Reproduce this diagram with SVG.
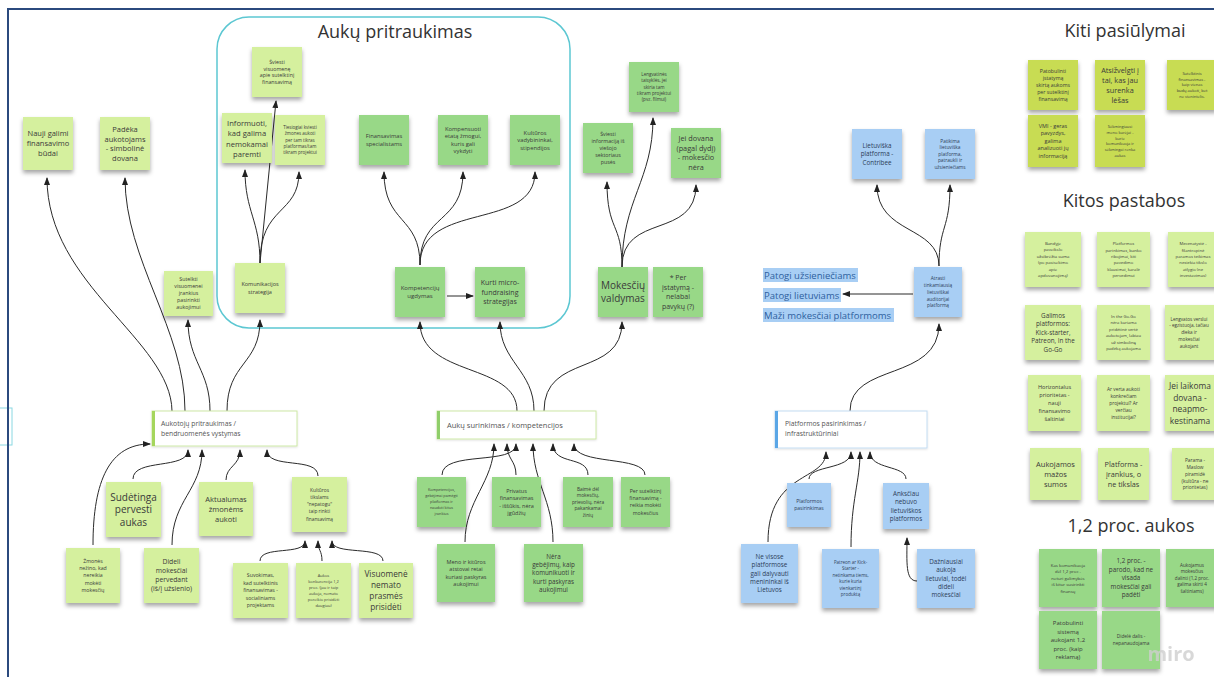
<svg xmlns="http://www.w3.org/2000/svg" width="1214" height="677" viewBox="0 0 1214 677">
<defs>
<filter id="sh" x="-20%" y="-20%" width="140%" height="150%">
<feDropShadow dx="0" dy="3" stdDeviation="2" flood-color="#000" flood-opacity="0.35"/>
</filter>
<filter id="sh2" x="-10%" y="-20%" width="120%" height="150%">
<feDropShadow dx="0" dy="1" stdDeviation="1" flood-color="#000" flood-opacity="0.12"/>
</filter>
<marker id="ah" markerUnits="userSpaceOnUse" markerWidth="8" markerHeight="6" viewBox="0 0 8 6" refX="7" refY="3" orient="auto">
<path d="M0,0 L8,3 L0,6 z" fill="#222"/>
</marker>
</defs>
<style>
text{font-family:"Open Sans","Noto Sans","Liberation Sans",sans-serif;fill:#3a3a3a;text-anchor:middle}
.n rect{filter:url(#sh)}
.lg{fill:#d5f09e}
.mg{fill:#98d887}
.yg{fill:#c8dc52}
.bl{fill:#a8cef4}
.bt{fill:#2c3d58}
.title{font-size:18px;fill:#333}
.wb rect.bx{fill:#fff;filter:url(#sh2)}
.wb text{text-anchor:start;fill:#555}
.c path{fill:none;stroke:#2a2a2a;stroke-width:1;marker-end:url(#ah)}
.hl rect{fill:#a8cef4}
.hl text{text-anchor:start;fill:#2d5f9e;font-size:9.5px}
</style>
<rect width="1214" height="677" fill="#fff"/>
<rect x="-10" y="408" width="22" height="37" fill="none" stroke="#8ad8e2" stroke-width="1"/>
<rect x="8" y="9" width="1230" height="690" fill="none" stroke="#2b4a7e" stroke-width="2"/>

<g id="frame-aukupritraukimas">
<rect x="217" y="17" width="353" height="311" rx="32" fill="none" stroke="#5cc7d2" stroke-width="1.5"/>
<text class="title" x="395" y="38">Aukų pritraukimas</text>
</g>
<text class="title" x="1125" y="37">Kiti pasiūlymai</text>
<text class="title" x="1124" y="207">Kitos pastabos</text>
<text class="title" x="1131" y="532">1,2 proc. aukos</text>

<g id="connectors" class="c">
<path d="M172,411 C171,340 47,285 47,178"/>
<path d="M185,411 C185,330 125,260 125,178"/>
<path d="M210,411 C210,370 188,362 188,320"/>
<path d="M227,411 C227,362 260,365 260,320"/>
<path d="M260,263 L276,101"/>
<path d="M260,263 C260,220 245,212 245,170"/>
<path d="M260,263 C260,205 299,215 299,172"/>
<path d="M420,265 C420,215 384,225 384,172"/>
<path d="M420,265 C420,212 463,225 463,172"/>
<path d="M420,265 C420,200 535,232 535,172"/>
<path d="M447,296 L473,296"/>
<path d="M517,411 C517,362 420,378 420,322"/>
<path d="M534,411 C534,370 500,362 500,322"/>
<path d="M544,411 C544,352 622,378 622,322"/>
<path d="M622,267 C622,222 607,232 607,182"/>
<path d="M622,267 C622,200 653,180 653,118"/>
<path d="M622,267 C622,212 696,240 696,185"/>
<path d="M850,411 C850,362 939,382 939,324"/>
<path d="M939,266 C939,225 877,235 877,185"/>
<path d="M939,266 C939,225 950,230 950,185"/>
<path d="M913,294 L843,294"/>
<path d="M93,545 C93,480 110,444 150,444"/>
<path d="M133,479 C133,458 188,470 188,450"/>
<path d="M172,545 C172,500 202,490 202,450"/>
<path d="M226,480 C226,466 240,466 240,450"/>
<path d="M318,476 C318,456 267,470 267,450"/>
<path d="M260,561 C260,545 305,556 305,541"/>
<path d="M322,561 C322,550 318,551 318,541"/>
<path d="M383,561 C383,545 332,556 332,541"/>
<path d="M442,475 C442,450 516,466 516,444"/>
<path d="M516,475 C516,460 507,460 507,444"/>
<path d="M465,542 C465,500 494,482 494,444"/>
<path d="M553,542 C553,500 533,482 533,444"/>
<path d="M588,475 C588,455 553,466 553,444"/>
<path d="M645,475 C645,455 574,466 574,444"/>
<path d="M768,542 C768,470 826,482 826,452"/>
<path d="M809,479 C809,465 851,470 851,452"/>
<path d="M851,547 C851,500 860,482 860,452"/>
<path d="M906,479 C906,465 870,470 870,452"/>
<path d="M917,581 C905,581 907,562 907,538"/>
</g>

<!-- left top -->
<g id="n-nauji" class="n"><rect class="lg" x="23" y="117" width="50" height="53"/><text x="48" y="136" font-size="7.5"><tspan x="48">Nauji galimi</tspan><tspan x="48" dy="10">finansavimo</tspan><tspan x="48" dy="10">būdai</tspan></text></g>
<g id="n-padeka" class="n"><rect class="lg" x="100" y="117" width="50" height="53"/><text x="125" y="132" font-size="7.5"><tspan x="125">Padėka</tspan><tspan x="125" dy="9.5">aukotojams</tspan><tspan x="125" dy="9.5">- simbolinė</tspan><tspan x="125" dy="9.5">dovana</tspan></text></g>
<g id="n-sutelkti" class="n"><rect class="lg" x="164" y="271" width="49" height="45"/><text x="188.5" y="281.4" font-size="5.3"><tspan x="188.5">Sutelkti</tspan><tspan x="188.5" dy="7">visuomenei</tspan><tspan x="188.5" dy="7">įrankius</tspan><tspan x="188.5" dy="7">pasirinkti</tspan><tspan x="188.5" dy="7">aukojimui</tspan></text></g>

<!-- box group -->
<g id="n-sviesti" class="n"><rect class="lg" x="252" y="47" width="50" height="50"/><text x="277" y="63.7" font-size="5.3"><tspan x="277">Šviesti</tspan><tspan x="277" dy="6.8">visuomenę</tspan><tspan x="277" dy="6.8">apie sutelktinį</tspan><tspan x="277" dy="6.8">finansavimą</tspan></text></g>
<g id="n-informuoti" class="n"><rect class="lg" x="222" y="113" width="50" height="50"/><text x="247" y="125.5" font-size="7.6"><tspan x="247">Informuoti,</tspan><tspan x="247" dy="10.5">kad galima</tspan><tspan x="247" dy="10.5">nemokamai</tspan><tspan x="247" dy="10.5">paremti</tspan></text></g>
<g id="n-tiesiogiai" class="n"><rect class="lg" x="275" y="115" width="50" height="50"/><text x="300" y="129" font-size="4.5"><tspan x="300">Tiesiogiai kviesti</tspan><tspan x="300" dy="6.3">žmones aukoti</tspan><tspan x="300" dy="6.3">per tam tikras</tspan><tspan x="300" dy="6.3">platformas/tam</tspan><tspan x="300" dy="6.3">tikram projektui</tspan></text></g>
<g id="n-komunikacijos" class="n"><rect class="lg" x="235" y="263" width="50" height="50"/><text x="260" y="286.2" font-size="5.5"><tspan x="260">Komunikacijos</tspan><tspan x="260" dy="7.5">strategija</tspan></text></g>
<g id="n-finansavimas" class="n"><rect class="mg" x="359" y="115" width="50" height="50"/><text x="384" y="138" font-size="5.8"><tspan x="384">Finansavimas</tspan><tspan x="384" dy="8">specialistams</tspan></text></g>
<g id="n-kompensuoti" class="n"><rect class="mg" x="438" y="115" width="50" height="50"/><text x="463" y="131" font-size="5.8"><tspan x="463">Kompensuoti</tspan><tspan x="463" dy="7.3">etatą žmogui,</tspan><tspan x="463" dy="7.3">kuris gali</tspan><tspan x="463" dy="7.3">vykdyti</tspan></text></g>
<g id="n-kulturos" class="n"><rect class="mg" x="510" y="115" width="50" height="50"/><text x="535" y="134.5" font-size="5.8"><tspan x="535">Kultūros</tspan><tspan x="535" dy="7.5">vadybininkai,</tspan><tspan x="535" dy="7.5">stipendijos</tspan></text></g>
<g id="n-kompetenciju" class="n"><rect class="mg" x="395" y="267" width="50" height="50"/><text x="420" y="290" font-size="6"><tspan x="420">Kompetencijų</tspan><tspan x="420" dy="8">ugdymas</tspan></text></g>
<g id="n-kurti" class="n"><rect class="mg" x="475" y="267" width="50" height="50"/><text x="500" y="285" font-size="7"><tspan x="500">Kurti micro-</tspan><tspan x="500" dy="9.5">fundraising</tspan><tspan x="500" dy="9.5">strategijas</tspan></text></g>

<!-- mokesciai -->
<g id="n-lengvatines" class="n"><rect class="mg" x="629" y="62" width="50" height="50"/><text x="654" y="76" font-size="4.6"><tspan x="654">Lengvatinės</tspan><tspan x="654" dy="6.3">taisyklės, jei</tspan><tspan x="654" dy="6.3">skiria tam</tspan><tspan x="654" dy="6.3">tikram projektui</tspan><tspan x="654" dy="6.3">(pvz. filmui)</tspan></text></g>
<g id="n-sviesti-info" class="n"><rect class="mg" x="583" y="123" width="50" height="50"/><text x="608" y="135.9" font-size="5.3"><tspan x="608">Šviesti</tspan><tspan x="608" dy="7">informaciją iš</tspan><tspan x="608" dy="7">viešojo</tspan><tspan x="608" dy="7">sektoriaus</tspan><tspan x="608" dy="7">pusės</tspan></text></g>
<g id="n-jei-dovana" class="n"><rect class="mg" x="671" y="128" width="50" height="50"/><text x="696" y="141.3" font-size="7.3"><tspan x="696">Jei dovana</tspan><tspan x="696" dy="9.5">(pagal dydį)</tspan><tspan x="696" dy="9.5">- mokesčio</tspan><tspan x="696" dy="9.5">nėra</tspan></text></g>
<g id="n-mokesciu" class="n"><rect class="mg" x="598" y="267" width="50" height="50"/><text x="623" y="289" font-size="10"><tspan x="623">Mokesčių</tspan><tspan x="623" dy="13">valdymas</tspan></text></g>
<g id="n-per-istatyma" class="n"><rect class="mg" x="653" y="267" width="50" height="50"/><text x="678" y="280.2" font-size="7"><tspan x="678">* Per</tspan><tspan x="678" dy="9.5">įstatymą -</tspan><tspan x="678" dy="9.5">nelabai</tspan><tspan x="678" dy="9.5">pavykų (?)</tspan></text></g>

<!-- platform top -->
<g id="n-lietuviska" class="n"><rect class="bl" x="852" y="129" width="50" height="50"/><text class="bt" x="877" y="147.7" font-size="6.3"><tspan x="877">Lietuviška</tspan><tspan x="877" dy="8.5">platforma -</tspan><tspan x="877" dy="8.5">Contribee</tspan></text></g>
<g id="n-patikima" class="n"><rect class="bl" x="925" y="129" width="50" height="50"/><text class="bt" x="950" y="142.7" font-size="4.8"><tspan x="950">Patikima</tspan><tspan x="950" dy="6.5">lietuviška</tspan><tspan x="950" dy="6.5">platforma,</tspan><tspan x="950" dy="6.5">patraukli ir</tspan><tspan x="950" dy="6.5">užsieniečiams</tspan></text></g>
<g id="n-atrasti" class="n"><rect class="bl" x="914" y="267" width="48" height="50"/><text class="bt" x="938" y="280.1" font-size="4.8"><tspan x="938">Atrasti</tspan><tspan x="938" dy="6.8">tinkamiausią</tspan><tspan x="938" dy="6.8">lietuviškai</tspan><tspan x="938" dy="6.8">auditorijai</tspan><tspan x="938" dy="6.8">platformą</tspan></text></g>
<g id="labels" class="hl">
<rect x="763" y="268" width="95" height="14"/><text x="764" y="279">Patogi užsieniečiams</text>
<rect x="763" y="288" width="78" height="14"/><text x="764" y="299">Patogi lietuviams</text>
<rect x="763" y="308" width="131" height="14"/><text x="764" y="319">Maži mokesčiai platformoms</text>
</g>

<!-- white category boxes -->
<g id="b-aukotoju" class="wb"><rect class="bx" x="152" y="411" width="145" height="35" stroke="#cde8a6" stroke-width="1"/><rect x="152" y="411" width="3" height="35" fill="#a5d65c"/><text x="161" y="425.5" font-size="6.8"><tspan x="161">Aukotojų pritraukimas /</tspan><tspan x="161" dy="10">bendruomenės vystymas</tspan></text></g>
<g id="b-auku" class="wb"><rect class="bx" x="437" y="411" width="159" height="28" stroke="#cde8a6" stroke-width="1"/><rect x="437" y="411" width="3" height="28" fill="#8fce6a"/><text x="447" y="427.5" font-size="7.5">Aukų surinkimas / kompetencijos</text></g>
<g id="b-platformos" class="wb"><rect class="bx" x="775" y="411" width="152" height="37" stroke="#c3dcf2" stroke-width="1"/><rect x="775" y="411" width="3" height="37" fill="#5aa6e6"/><text x="785" y="425.5" font-size="6.8"><tspan x="785">Platformos pasirinkimas /</tspan><tspan x="785" dy="10">infrastruktūriniai</tspan></text></g>

<!-- below aukotoju -->
<g id="n-sudetinga" class="n"><rect class="lg" x="106" y="482" width="55" height="55"/><text x="133.5" y="500.5" font-size="10"><tspan x="133.5">Sudėtinga</tspan><tspan x="133.5" dy="12.5">pervesti</tspan><tspan x="133.5" dy="12.5">aukas</tspan></text></g>
<g id="n-aktualumas" class="n"><rect class="lg" x="199" y="482" width="54" height="54"/><text x="226" y="501.6" font-size="7.5"><tspan x="226">Aktualumas</tspan><tspan x="226" dy="10">žmonėms</tspan><tspan x="226" dy="10">aukoti</tspan></text></g>
<g id="n-kulturos-tikslams" class="n"><rect class="lg" x="292" y="477" width="55" height="55"/><text x="319.5" y="491.8" font-size="4.8"><tspan x="319.5">Kultūros</tspan><tspan x="319.5" dy="7.2">tikslams</tspan><tspan x="319.5" dy="7.2">&quot;nepatogu&quot;</tspan><tspan x="319.5" dy="7.2">taip rinkti</tspan><tspan x="319.5" dy="7.2">finansavimą</tspan></text></g>
<g id="n-zmones" class="n"><rect class="lg" x="66" y="548" width="54" height="55"/><text x="93" y="562.9" font-size="5.2"><tspan x="93">Žmonės</tspan><tspan x="93" dy="7.2">nežino, kad</tspan><tspan x="93" dy="7.2">nereikia</tspan><tspan x="93" dy="7.2">mokėti</tspan><tspan x="93" dy="7.2">mokesčių</tspan></text></g>
<g id="n-dideli" class="n"><rect class="lg" x="144" y="548" width="55" height="55"/><text x="171.5" y="564.4" font-size="6.8"><tspan x="171.5">Dideli</tspan><tspan x="171.5" dy="9">mokesčiai</tspan><tspan x="171.5" dy="9">pervedant</tspan><tspan x="171.5" dy="9">(iš/į užsienio)</tspan></text></g>
<g id="n-suvokimas" class="n"><rect class="lg" x="233" y="563" width="55" height="55"/><text x="260.5" y="577.3" font-size="5.2"><tspan x="260.5">Suvokimas,</tspan><tspan x="260.5" dy="7.5">kad sutelktinis</tspan><tspan x="260.5" dy="7.5">finansavimas -</tspan><tspan x="260.5" dy="7.5">socialiniams</tspan><tspan x="260.5" dy="7.5">projektams</tspan></text></g>
<g id="n-aukos-konkurencija" class="n"><rect class="lg" x="296" y="563" width="55" height="55"/><text x="323.5" y="576.9" font-size="4"><tspan x="323.5">Aukos</tspan><tspan x="323.5" dy="6">konkurencija 1,2</tspan><tspan x="323.5" dy="6">proc. (jau ir taip</tspan><tspan x="323.5" dy="6">aukoja, nemato</tspan><tspan x="323.5" dy="6">poreikio prisidėti</tspan><tspan x="323.5" dy="6">daugiau)</tspan></text></g>
<g id="n-visuomene" class="n"><rect class="lg" x="359" y="563" width="54" height="55"/><text x="386" y="577" font-size="8.3"><tspan x="386">Visuomenė</tspan><tspan x="386" dy="11">nemato</tspan><tspan x="386" dy="11">prasmės</tspan><tspan x="386" dy="11">prisidėti</tspan></text></g>

<!-- below auku -->
<g id="n-kompetencijos-gebejimai" class="n"><rect class="mg" x="417" y="477" width="49" height="50"/><text x="441.5" y="491.3" font-size="3.8"><tspan x="441.5">Kompetencijos,</tspan><tspan x="441.5" dy="6">gebėjimai pamėgti</tspan><tspan x="441.5" dy="6">platformas ir</tspan><tspan x="441.5" dy="6">naudoti kitus</tspan><tspan x="441.5" dy="6">įrankius</tspan></text></g>
<g id="n-privatus" class="n"><rect class="mg" x="492" y="477" width="49" height="50"/><text x="516.5" y="492.7" font-size="5.5"><tspan x="516.5">Privatus</tspan><tspan x="516.5" dy="7.5">finansavimas</tspan><tspan x="516.5" dy="7.5">- iššūkis, nėra</tspan><tspan x="516.5" dy="7.5">įgūdžių</tspan></text></g>
<g id="n-baime" class="n"><rect class="mg" x="563" y="477" width="50" height="50"/><text x="588" y="490.7" font-size="4.8"><tspan x="588">Baimė dėl</tspan><tspan x="588" dy="6.5">mokesčių,</tspan><tspan x="588" dy="6.5">prievolių, nėra</tspan><tspan x="588" dy="6.5">pakankamai</tspan><tspan x="588" dy="6.5">žinių</tspan></text></g>
<g id="n-per-sutelktini" class="n"><rect class="mg" x="621" y="477" width="49" height="50"/><text x="645.5" y="493" font-size="5.2"><tspan x="645.5">Per sutelktinį</tspan><tspan x="645.5" dy="7.2">finansavimą -</tspan><tspan x="645.5" dy="7.2">reikia mokėti</tspan><tspan x="645.5" dy="7.2">mokesčius</tspan></text></g>
<g id="n-meno" class="n"><rect class="mg" x="437" y="544" width="58" height="58"/><text x="466" y="563.7" font-size="5.5"><tspan x="466">Meno ir kitūros</tspan><tspan x="466" dy="7.5">atstovai retai</tspan><tspan x="466" dy="7.5">kuriasi paskyras</tspan><tspan x="466" dy="7.5">aukojimui</tspan></text></g>
<g id="n-nera" class="n"><rect class="mg" x="524" y="544" width="59" height="58"/><text x="553.5" y="558.6" font-size="6.3"><tspan x="553.5">Nėra</tspan><tspan x="553.5" dy="8.3">gebėjimų, kaip</tspan><tspan x="553.5" dy="8.3">komunikuoti ir</tspan><tspan x="553.5" dy="8.3">kurti paskyras</tspan><tspan x="553.5" dy="8.3">aukojimui</tspan></text></g>

<!-- below platformos -->
<g id="n-platformos-pasirinkimas" class="n"><rect class="bl" x="787" y="483" width="44" height="44"/><text class="bt" x="809" y="503.3" font-size="5"><tspan x="809">Platformos</tspan><tspan x="809" dy="7">pasirinkimas</tspan></text></g>
<g id="n-anksciau" class="n"><rect class="bl" x="883" y="483" width="46" height="46"/><text class="bt" x="906" y="495.5" font-size="6.3"><tspan x="906">Anksčiau</tspan><tspan x="906" dy="8.5">nebuvo</tspan><tspan x="906" dy="8.5">lietuviškos</tspan><tspan x="906" dy="8.5">platformos</tspan></text></g>
<g id="n-ne-visose" class="n"><rect class="bl" x="741" y="544" width="57" height="59"/><text class="bt" x="769.5" y="559.1" font-size="6.3"><tspan x="769.5">Ne visose</tspan><tspan x="769.5" dy="8.3">platformose</tspan><tspan x="769.5" dy="8.3">gali dalyvauti</tspan><tspan x="769.5" dy="8.3">menininkai iš</tspan><tspan x="769.5" dy="8.3">Lietuvos</tspan></text></g>
<g id="n-patreon" class="n"><rect class="bl" x="822" y="549" width="57" height="59"/><text class="bt" x="850.5" y="563.9" font-size="4.5"><tspan x="850.5">Patreon ar Kick-</tspan><tspan x="850.5" dy="6.5">Starter -</tspan><tspan x="850.5" dy="6.5">netinkama tiems,</tspan><tspan x="850.5" dy="6.5">kurie kuria</tspan><tspan x="850.5" dy="6.5">vienkartinį</tspan><tspan x="850.5" dy="6.5">produktą</tspan></text></g>
<g id="n-dazniausiai" class="n"><rect class="bl" x="917" y="549" width="58" height="59"/><text class="bt" x="946" y="564.1" font-size="6.3"><tspan x="946">Dažniausiai</tspan><tspan x="946" dy="8.3">aukoja</tspan><tspan x="946" dy="8.3">lietuviai, todėl</tspan><tspan x="946" dy="8.3">dideli</tspan><tspan x="946" dy="8.3">mokesčiai</tspan></text></g>

<!-- Kiti pasiulymai -->
<g id="k-patobulinti" class="n"><rect class="yg" x="1028" y="60" width="50" height="50"/><text x="1053" y="72.8" font-size="5.2"><tspan x="1053">Patobulinti</tspan><tspan x="1053" dy="7">įstatymą</tspan><tspan x="1053" dy="7">skirtą aukoms</tspan><tspan x="1053" dy="7">per sutelktinį</tspan><tspan x="1053" dy="7">finansavimą</tspan></text></g>
<g id="k-atsizvelgti" class="n"><rect class="yg" x="1095" y="60" width="50" height="50"/><text x="1120" y="72.6" font-size="7.3"><tspan x="1120">Atsižvelgti į</tspan><tspan x="1120" dy="10">tai, kas jau</tspan><tspan x="1120" dy="10">surenka</tspan><tspan x="1120" dy="10">lėšas</tspan></text></g>
<g id="k-sutelktinis" class="n"><rect class="yg" x="1167" y="60" width="50" height="50"/><text x="1192" y="74.8" font-size="4"><tspan x="1192">Sutelktinis</tspan><tspan x="1192" dy="5.8">finansavimas -</tspan><tspan x="1192" dy="5.8">kaip vienas</tspan><tspan x="1192" dy="5.8">būdų aukoti, bet</tspan><tspan x="1192" dy="5.8">ne vienintelis.</tspan></text></g>
<g id="k-vmi" class="n"><rect class="yg" x="1028" y="115" width="50" height="52"/><text x="1053" y="127.9" font-size="5.5"><tspan x="1053">VMI - geras</tspan><tspan x="1053" dy="7.5">pavyzdys,</tspan><tspan x="1053" dy="7.5">galima</tspan><tspan x="1053" dy="7.5">analizuoti jų</tspan><tspan x="1053" dy="7.5">informaciją</tspan></text></g>
<g id="k-sekmingiausi" class="n"><rect class="yg" x="1095" y="115" width="50" height="52"/><text x="1120" y="127.9" font-size="4"><tspan x="1120">Sėkmingiausi</tspan><tspan x="1120" dy="5.8">meno kūrėjai -</tspan><tspan x="1120" dy="5.8">kurie</tspan><tspan x="1120" dy="5.8">komunikuoja ir</tspan><tspan x="1120" dy="5.8">sėkmingai renka</tspan><tspan x="1120" dy="5.8">aukas</tspan></text></g>

<!-- Kitos pastabos -->
<g id="p-1" class="n"><rect class="lg" x="1025" y="232" width="56" height="55"/><text x="1053" y="244.8" font-size="4.3"><tspan x="1053">Bandyje</tspan><tspan x="1053" dy="6.5">paveikslo</tspan><tspan x="1053" dy="6.5">užsibrėžta suma</tspan><tspan x="1053" dy="6.5">(po pasisekimo</tspan><tspan x="1053" dy="6.5">apie</tspan><tspan x="1053" dy="6.5">apdovanojimą)</tspan></text></g>
<g id="p-2" class="n"><rect class="lg" x="1097" y="232" width="53" height="55"/><text x="1123.5" y="245.3" font-size="4.2"><tspan x="1123.5">Platformos</tspan><tspan x="1123.5" dy="6.3">parinkimas, banko</tspan><tspan x="1123.5" dy="6.3">ribojimai, kiti</tspan><tspan x="1123.5" dy="6.3">pavedimo</tspan><tspan x="1123.5" dy="6.3">klausimai, karalė</tspan><tspan x="1123.5" dy="6.3">pervedimui</tspan></text></g>
<g id="p-3" class="n"><rect class="lg" x="1168" y="232" width="52" height="55"/><text x="1193" y="245.3" font-size="4.2"><tspan x="1193">Mecenatystė -</tspan><tspan x="1193" dy="6.3">filantropinė</tspan><tspan x="1193" dy="6.3">paramos teikimas</tspan><tspan x="1193" dy="6.3">nesiekia tikslo</tspan><tspan x="1193" dy="6.3">atlygio (ne</tspan><tspan x="1193" dy="6.3">investavimas)</tspan></text></g>
<g id="p-4" class="n"><rect class="lg" x="1025" y="305" width="56" height="55"/><text x="1053" y="317.7" font-size="6.3"><tspan x="1053">Galimos</tspan><tspan x="1053" dy="8.5">platformos:</tspan><tspan x="1053" dy="8.5">Kick-starter,</tspan><tspan x="1053" dy="8.5">Patreon, In the</tspan><tspan x="1053" dy="8.5">Go-Go</tspan></text></g>
<g id="p-5" class="n"><rect class="lg" x="1097" y="305" width="53" height="55"/><text x="1123.5" y="317.8" font-size="4.2"><tspan x="1123.5">In the Go-Go</tspan><tspan x="1123.5" dy="6.5">nėra kuriama</tspan><tspan x="1123.5" dy="6.5">pridėtinė vertė</tspan><tspan x="1123.5" dy="6.5">aukotojam, labiau</tspan><tspan x="1123.5" dy="6.5">už simbolinę</tspan><tspan x="1123.5" dy="6.5">padėką aukojama</tspan></text></g>
<g id="p-6" class="n"><rect class="lg" x="1165" y="305" width="55" height="55"/><text x="1189" y="320.6" font-size="4.6"><tspan x="1189">Lengvatos verslui</tspan><tspan x="1189" dy="6.8">- egzistuoja, tačiau</tspan><tspan x="1189" dy="6.8">dieka ir</tspan><tspan x="1189" dy="6.8">mokesčiai</tspan><tspan x="1189" dy="6.8">aukojant</tspan></text></g>
<g id="p-7" class="n"><rect class="lg" x="1028" y="375" width="53" height="56"/><text x="1054.5" y="389" font-size="5.6"><tspan x="1054.5">Horizontalus</tspan><tspan x="1054.5" dy="8">prioritetas -</tspan><tspan x="1054.5" dy="8">nauji</tspan><tspan x="1054.5" dy="8">finansavimo</tspan><tspan x="1054.5" dy="8">šaltiniai</tspan></text></g>
<g id="p-8" class="n"><rect class="lg" x="1097" y="375" width="53" height="56"/><text x="1123.5" y="390.7" font-size="4.8"><tspan x="1123.5">Ar verta aukoti</tspan><tspan x="1123.5" dy="7">konkrečiam</tspan><tspan x="1123.5" dy="7">projektui? Ar</tspan><tspan x="1123.5" dy="7">verčiau</tspan><tspan x="1123.5" dy="7">institucijai?</tspan></text></g>
<g id="p-9" class="n"><rect class="lg" x="1165" y="375" width="55" height="56"/><text x="1190" y="389.2" font-size="8.4"><tspan x="1190">Jei laikoma</tspan><tspan x="1190" dy="11.5">dovana -</tspan><tspan x="1190" dy="11.5">neapmo-</tspan><tspan x="1190" dy="11.5">kestinama</tspan></text></g>
<g id="p-10" class="n"><rect class="lg" x="1030" y="448" width="51" height="52"/><text x="1055.5" y="466.6" font-size="7.5"><tspan x="1055.5">Aukojamos</tspan><tspan x="1055.5" dy="10">mažos</tspan><tspan x="1055.5" dy="10">sumos</tspan></text></g>
<g id="p-11" class="n"><rect class="lg" x="1098" y="448" width="51" height="52"/><text x="1123.5" y="466.6" font-size="7.3"><tspan x="1123.5">Platforma -</tspan><tspan x="1123.5" dy="10">įrankius, o</tspan><tspan x="1123.5" dy="10">ne tikslas</tspan></text></g>
<g id="p-12" class="n"><rect class="lg" x="1172" y="448" width="48" height="52"/><text x="1195" y="462.1" font-size="4.8"><tspan x="1195">Parama -</tspan><tspan x="1195" dy="6.8">Maslow</tspan><tspan x="1195" dy="6.8">piramidė</tspan><tspan x="1195" dy="6.8">(kultūra - ne</tspan><tspan x="1195" dy="6.8">prioritetas)</tspan></text></g>

<!-- 1,2 proc -->
<g id="a-1" class="n"><rect class="mg" x="1039" y="549" width="58" height="58"/><text x="1068" y="566.5" font-size="4.3"><tspan x="1068">Kas komunikuoja</tspan><tspan x="1068" dy="6.5">dėl 1,2 proc -</tspan><tspan x="1068" dy="6.5">neturi galimybės</tspan><tspan x="1068" dy="6.5">iš kitur susirinkti</tspan><tspan x="1068" dy="6.5">finansų</tspan></text></g>
<g id="a-2" class="n"><rect class="mg" x="1102" y="549" width="58" height="58"/><text x="1131" y="563.2" font-size="6.3"><tspan x="1131">1,2 proc. -</tspan><tspan x="1131" dy="8.5">parodo, kad ne</tspan><tspan x="1131" dy="8.5">visada</tspan><tspan x="1131" dy="8.5">mokesčiai gali</tspan><tspan x="1131" dy="8.5">padėti</tspan></text></g>
<g id="a-3" class="n"><rect class="mg" x="1166" y="549" width="55" height="58"/><text x="1192" y="566.6" font-size="4.6"><tspan x="1192">Aukojamus</tspan><tspan x="1192" dy="6.5">mokesčius</tspan><tspan x="1192" dy="6.5">dalinti (1,2 proc.</tspan><tspan x="1192" dy="6.5">galima skirti 4</tspan><tspan x="1192" dy="6.5">šaltiniams)</tspan></text></g>
<g id="a-4" class="n"><rect class="mg" x="1039" y="611" width="58" height="58"/><text x="1068" y="625.1" font-size="6"><tspan x="1068">Patobulinti</tspan><tspan x="1068" dy="8.5">sistemą</tspan><tspan x="1068" dy="8.5">aukojant 1,2</tspan><tspan x="1068" dy="8.5">proc. (kaip</tspan><tspan x="1068" dy="8.5">reklamą)</tspan></text></g>
<g id="a-5" class="n"><rect class="mg" x="1102" y="611" width="58" height="58"/><text x="1131" y="638.2" font-size="4.8"><tspan x="1131">Didelė dalis -</tspan><tspan x="1131" dy="7">nepanaudojama</tspan></text></g>

<text x="1171" y="661" font-size="20" font-weight="bold" style="fill:#cfcfcf;opacity:0.8">miro</text>
</svg>
